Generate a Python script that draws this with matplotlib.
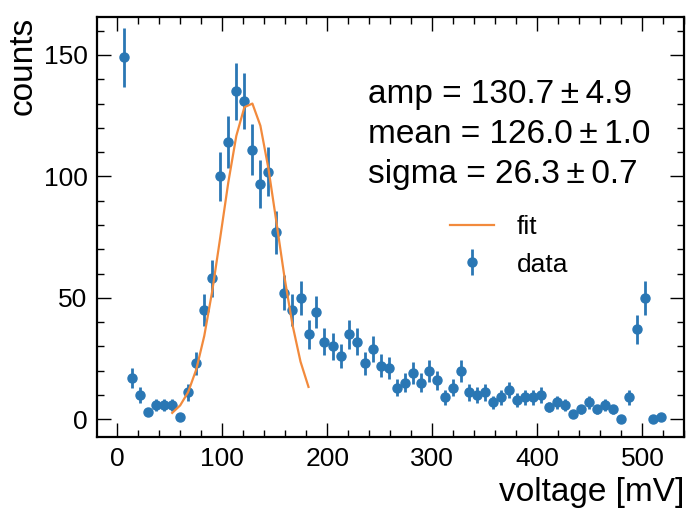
import numpy as np
import matplotlib
matplotlib.use("Agg")
import matplotlib.pyplot as plt
from matplotlib.ticker import MultipleLocator

plt.rcParams['font.family'] = ['Liberation Sans', 'DejaVu Sans']

# histogram bin centres [mV] and counts
bin_centers = [6.7, 14.3, 21.9, 29.6, 37.2, 44.9, 52.5, 60.1, 67.7, 75.4,
               83.0, 90.6, 98.3, 105.9, 113.5, 121.2, 128.8, 136.4, 144.0, 151.7,
               159.3, 166.9, 174.6, 182.2, 189.8, 197.4, 205.1, 212.7, 220.3, 228.0,
               235.6, 243.2, 250.8, 258.5, 266.1, 273.7, 281.4, 289.0, 296.6, 304.2,
               311.9, 319.5, 327.1, 334.8, 342.4, 350.0, 357.6, 365.3, 372.9, 380.5,
               388.2, 395.8, 403.4, 411.0, 418.7, 426.3, 433.9, 441.6, 449.2, 456.8,
               464.4, 472.1, 479.7, 487.3, 495.0, 502.6, 510.2, 517.8]
counts = [149, 17, 10, 3, 6, 6, 6, 1, 11, 23,
          45, 58, 100, 114, 135, 131, 111, 97, 102, 77,
          52, 45, 50, 35, 44, 32, 30, 26, 35, 32,
          23, 29, 22, 21, 13, 15, 19, 15, 20, 16,
          9, 13, 20, 11, 10, 11, 7, 9, 12, 8,
          9, 9, 10, 5, 7, 6, 2, 4, 7, 4,
          6, 4, 0, 9, 37, 50, 0, 1]

# fit curve evaluated at the bins 52.5 .. 182.2
fit_x = [52.5, 60.1, 67.7, 75.4, 83.0, 90.6, 98.3, 105.9, 113.5, 121.2,
         128.8, 136.4, 144.0, 151.7, 159.3, 166.9, 174.6, 182.2]
fit_y = [2.6, 5.7, 11.2, 20.5, 34.3, 52.8, 75.1, 97.6, 116.7, 128.5,
         130.0, 120.9, 103.4, 81.1, 58.6, 39.0, 23.7, 13.3]

fit_lines = ["amp = 130.7\u2009\u00b1\u20094.9",
             "mean = 126.0\u2009\u00b1\u20091.0",
             "sigma = 26.3\u2009\u00b1\u20090.7"]

fig = plt.figure(figsize=(6.9, 5.11), dpi=100)
ax = fig.add_axes([0.141, 0.144, 0.851, 0.8225])

ax.plot(fit_x, fit_y, color='#f28a3c', lw=1.6, label='fit', zorder=3)
yerr = np.sqrt(np.array(counts, dtype=float))
ax.errorbar(bin_centers, counts, yerr=yerr, fmt='o', color='#2a77b4',
            markersize=6.5, elinewidth=2, capsize=0, label='data', zorder=2)

ax.set_xlim(-18.8, 540)
ax.set_ylim(-7.5, 165.6)

ax.xaxis.set_major_locator(MultipleLocator(100))
ax.xaxis.set_minor_locator(MultipleLocator(20))
ax.yaxis.set_major_locator(MultipleLocator(50))
ax.yaxis.set_minor_locator(MultipleLocator(10))
ax.tick_params(which='both', direction='in', top=True, right=True, labelsize=19)
ax.tick_params(which='major', length=10, width=1.0, pad=7)
ax.tick_params(which='minor', length=5, width=1.0)
for s in ax.spines.values():
    s.set_linewidth(1.6)

ax.set_xlabel('voltage [mV]', fontsize=24, loc='right')
ax.set_ylabel('counts', fontsize=24, loc='top')

for i, line in enumerate(fit_lines):
    ax.text(0.461, 0.7947 - i * 0.0952, line, transform=ax.transAxes,
            fontsize=24, va='baseline', ha='left')

ax.legend(loc='upper left', bbox_to_anchor=(0.601, 0.529), frameon=False,
          fontsize=19, handlelength=1.67, handletextpad=0.85, borderpad=0,
          borderaxespad=0, labelspacing=0.51)

fig.savefig('out.png', dpi=100)
